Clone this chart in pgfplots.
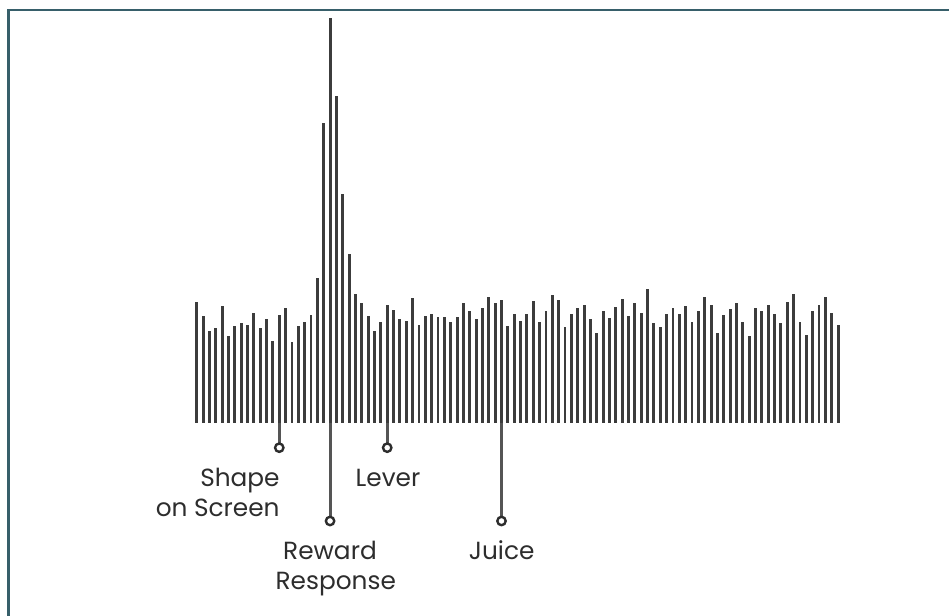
\documentclass[border=0pt]{standalone}
\usepackage{fontspec}
\setmainfont{Poppins}
\usepackage{pgfplots}
\pgfplotsset{compat=1.18}
\usepackage{pgfplotstable}
\definecolor{barcol}{RGB}{60,60,60}
\definecolor{stemcol}{RGB}{85,85,85}
\definecolor{framecol}{RGB}{55,95,106}
\definecolor{txtcol}{RGB}{45,45,45}
\pgfplotstableread{
i h
1 121.3
2 107
3 92
4 95.3
5 117
6 87
7 97
8 100.3
9 98
10 110.3
11 94.7
12 103.7
13 82
14 108
15 114.7
16 81.3
17 97
18 101.3
19 108
20 145.3
21 300.3
22 404.7
23 327
24 228.7
25 168.7
26 128.7
27 120.3
28 107
29 92
30 101.3
31 118
32 113
33 103.7
34 102.3
35 125.3
36 98
37 107
38 109
39 106.3
40 106.3
41 101.3
42 106.3
43 119.7
44 112.3
45 103.7
46 114.7
47 125.7
48 120.3
49 123
50 97
51 109
52 102.3
53 109
54 122.3
55 101.3
56 112.3
57 127.7
58 123
59 95.7
60 109
61 114.7
62 117.7
63 103.7
64 90.3
65 112.3
66 104.7
67 116.3
68 123.7
69 107
70 120.3
71 109.7
72 133.7
73 100.3
74 95.7
75 108.7
76 114.7
77 108.7
78 117
79 101.3
80 112.3
81 125.7
82 118
83 89.7
84 107.7
85 113.7
86 120.3
87 101.3
88 87
89 114.7
90 112.3
91 118
92 108.7
93 100.3
94 121.3
95 129
96 101.3
97 88
98 112.3
99 118
100 126.3
101 109.7
102 98
}\spikes
\pgfplotstableread{
i h
14 -24.7
22 -98
31 -24.7
49 -98
}\events
\begin{document}
\begin{tikzpicture}
\useasboundingbox (0,0) rectangle (474.5pt,308pt);
\begin{axis}[
  at={(0,0)}, anchor=south west,
  scale only axis, width=474.5pt, height=308pt,
  xmin=-29.976, xmax=119.47, ymin=-193, ymax=423,
  axis lines=none, clip=false,
]
\draw[framecol, line width=1.3pt, line join=miter] (axis cs:-28.61,-193) |- (axis cs:119.47,413);
\addplot[ycomb, no marks, barcol, line width=1.45pt] table[x=i, y=h] {\spikes};
\addplot[ycomb, no marks, stemcol, line width=1.45pt] table[x=i, y=h] {\events};
\addplot[only marks, mark=*, mark size=2.1pt, mark options={fill=white, draw=txtcol, line width=1.2pt}] table[x=i, y=h] {\events};
\begin{scope}[every node/.style={font=\fontsize{12.4}{15}\selectfont, text=txtcol, inner sep=0pt}]
\node[anchor=base east] at (axis cs:14.12,-63.7) {Shape};
\node[anchor=base east] at (axis cs:14.12,-93.7) {on Screen};
\node[anchor=base] at (axis cs:31.13,-63.7) {Lever};
\node[anchor=base] at (axis cs:21.99,-137) {Reward};
\node[anchor=base] at (axis cs:22.9,-167) {Response};
\node[anchor=base] at (axis cs:49.03,-137) {Juice};
\end{scope}
\end{axis}
\end{tikzpicture}
\end{document}
